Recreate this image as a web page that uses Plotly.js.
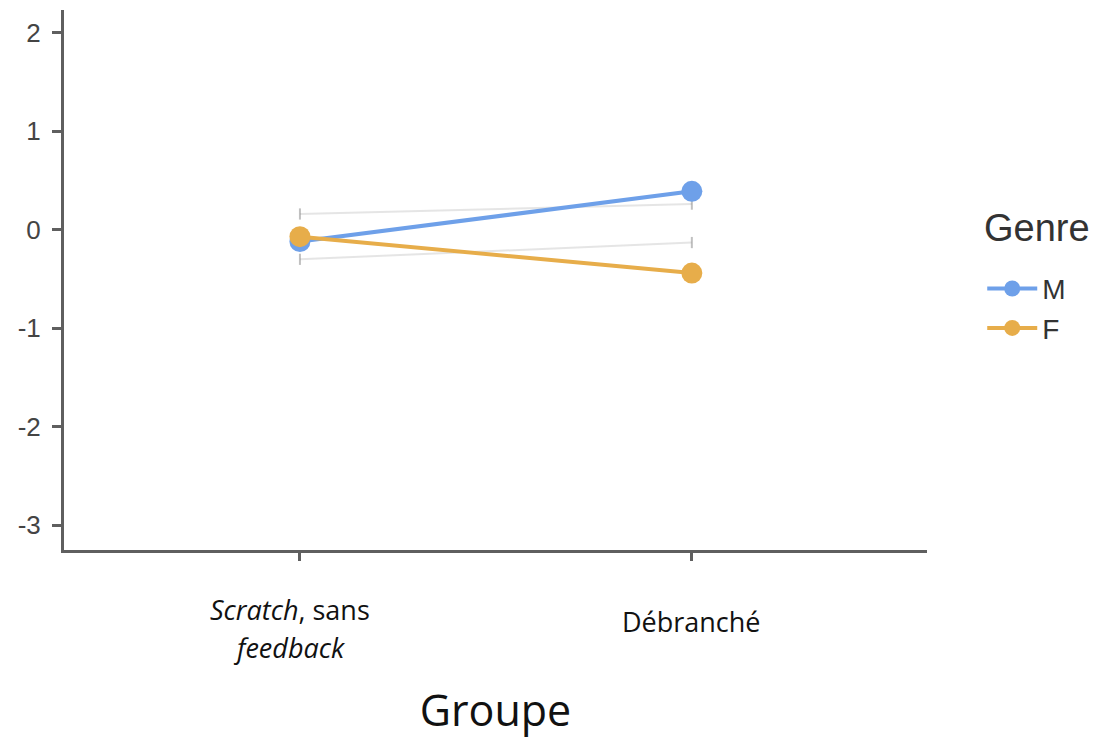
<!DOCTYPE html>
<html>
<head>
<meta charset="utf-8">
<script src="https://cdn.plot.ly/plotly-3.0.1.min.js"></script>
<style>html,body{margin:0;padding:0;background:#fff;}#chart{width:1104px;height:739px;}</style>
</head>
<body>
<div id="chart"></div>
<script>
// ---- data ----
const groups = ["Scratch, sans feedback", "Débranché"];
const groupLabelLines = [["<i>Scratch</i>, sans", "<i>feedback</i>"], ["Débranché"]];
const genres = ["M", "F"];
const meanM = [-0.12, 0.39];
const meanF = [-0.07, -0.44];
const faintUpper = [0.16, 0.26];
const faintLower = [-0.30, -0.13];
const yTicks = [-3, -2, -1, 0, 1, 2];
const yTickText = ["-3", "-2", "-1", "0", "1", "2"];
const xTitle = "Groupe";
const legendTitle = "Genre";

const colM = "#6ea0e9";
const colF = "#e7ad4a";

function faint(y) {
  return {
    x: groups, y: y, type: "scatter", mode: "lines+markers",
    line: {color: "rgba(190,190,190,0.4)", width: 2},
    marker: {symbol: "line-ns", size: 8, line: {color: "rgba(140,140,140,0.55)", width: 2}},
    showlegend: false, hoverinfo: "skip"
  };
}

const traces = [
  faint(faintUpper),
  faint(faintLower),
  {x: groups, y: meanM, name: genres[0], type: "scatter", mode: "lines+markers",
   line: {color: colM, width: 4}, marker: {color: colM, size: 21}},
  {x: groups, y: meanF, name: genres[1], type: "scatter", mode: "lines+markers",
   line: {color: colF, width: 4}, marker: {color: colF, size: 21}}
];

// tick label annotations (positions in paper space below axis)
const annY = [[-0.111, -0.181], [-0.133]];
const annShift = [-10, 0];
const annotations = [];
groupLabelLines.forEach((lines, i) => {
  lines.forEach((t, j) => {
    annotations.push({
      x: groups[i], xref: "x", y: annY[i][j], yref: "paper", xshift: annShift[i],
      text: t, showarrow: false, xanchor: "center", yanchor: "middle",
      font: {family: "Open Sans", size: 27, color: "#111"}
    });
  });
});
// legend heading
annotations.push({
  x: 1.064, xref: "paper", y: 0.596, yref: "paper",
  text: legendTitle, showarrow: false, xanchor: "left", yanchor: "middle",
  font: {family: "Liberation Sans", size: 38, color: "#333"}
});

const layout = {
  width: 1104, height: 739,
  margin: {l: 64, r: 177, t: 10, b: 189},
  paper_bgcolor: "#fff", plot_bgcolor: "#fff",
  showlegend: true,
  xaxis: {
    type: "category", range: [-0.602, 1.6],
    showgrid: false, zeroline: false,
    showline: true, linecolor: "#5f5f5f", linewidth: 3,
    ticks: "outside", ticklen: 8, tickwidth: 3, tickcolor: "#5f5f5f",
    showticklabels: false,
    title: {text: xTitle, font: {family: "Open Sans", size: 43, color: "#111"}, standoff: 140},
    automargin: false, fixedrange: true
  },
  yaxis: {
    range: [-3.25, 2.23], tickvals: yTicks, ticktext: yTickText,
    showgrid: false, zeroline: false,
    showline: true, linecolor: "#5f5f5f", linewidth: 3,
    ticks: "outside", ticklen: 9, tickwidth: 3, tickcolor: "#5f5f5f",
    tickfont: {family: "Liberation Sans", size: 26, color: "#444"},
    ticklabelstandoff: 6,
    automargin: false, fixedrange: true
  },
  legend: {
    x: 1.064, xanchor: "left", y: 0.53, yanchor: "top",
    font: {family: "Liberation Sans", size: 28, color: "#333"},
    itemwidth: 50, bgcolor: "rgba(0,0,0,0)", tracegroupgap: 0
  },
  annotations: annotations
};

Plotly.newPlot("chart", traces, layout, {displayModeBar: false, staticPlot: true});
</script>
</body>
</html>
